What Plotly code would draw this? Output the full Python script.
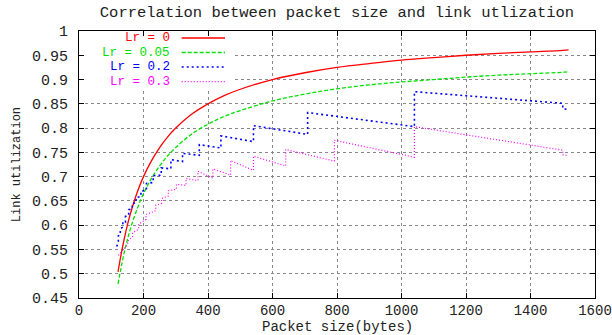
import plotly.graph_objects as go

# ---- data ----
size_smooth = [121, 130, 140, 150, 160, 180, 200, 225, 250, 275, 300, 350, 400, 450, 500,
               600, 700, 800, 900, 1000, 1100, 1200, 1300, 1400, 1500, 1518]
util_lr0 = [0.504, 0.538, 0.571, 0.600, 0.625, 0.667, 0.700, 0.733, 0.760, 0.782, 0.800,
            0.829, 0.850, 0.867, 0.880, 0.900, 0.914, 0.925, 0.933, 0.940, 0.945, 0.950,
            0.954, 0.957, 0.960, 0.961]
util_lr005 = [0.479, 0.511, 0.543, 0.570, 0.594, 0.633, 0.665, 0.697, 0.722, 0.743, 0.760,
              0.788, 0.808, 0.824, 0.836, 0.856, 0.870, 0.881, 0.889, 0.895, 0.900, 0.905,
              0.909, 0.912, 0.915, 0.916]

size_lr02 = [117, 122, 122, 128, 128, 136, 136, 144, 144, 154, 154, 165, 165, 177, 177,
             192, 192, 209, 209, 230, 230, 255, 255, 285, 285, 321, 321, 373, 373, 440, 440,
             541, 541, 709, 709, 1040, 1040, 1500, 1500, 1518]
util_lr02 = [0.556, 0.566, 0.578, 0.580, 0.592, 0.596, 0.607, 0.606, 0.618, 0.620, 0.632,
             0.634, 0.645, 0.646, 0.657, 0.659, 0.670, 0.672, 0.686, 0.688, 0.702, 0.703,
             0.718, 0.716, 0.735, 0.731, 0.748, 0.744, 0.766, 0.759, 0.784, 0.772, 0.805,
             0.787, 0.832, 0.803, 0.875, 0.851, 0.840, 0.838]

size_lr03 = [122, 151, 151, 166, 166, 185, 185, 208, 208, 238, 238, 256, 256, 277, 277,
             302, 302, 332, 332, 369, 369, 415, 415, 470, 470, 541, 541, 641, 641, 792, 792,
             1040, 1040, 1500, 1500, 1518]
util_lr03 = [0.538, 0.560, 0.567, 0.576, 0.584, 0.592, 0.602, 0.612, 0.622, 0.630, 0.641,
             0.645, 0.655, 0.660, 0.671, 0.674, 0.684, 0.682, 0.696, 0.692, 0.711, 0.697,
             0.716, 0.703, 0.733, 0.713, 0.742, 0.722, 0.756, 0.732, 0.775, 0.740, 0.803,
             0.7545, 0.745, 0.743]

x_ticks = [0, 200, 400, 600, 800, 1000, 1200, 1400, 1600]
y_ticks = [0.45, 0.5, 0.55, 0.6, 0.65, 0.7, 0.75, 0.8, 0.85, 0.9, 0.95, 1.0]
y_tick_labels = ["0.45", "0.5", "0.55", "0.6", "0.65", "0.7", "0.75", "0.8", "0.85",
                 "0.9", "0.95", "1"]

series_names = ["Lr = 0", "Lr = 0.05", "Lr = 0.2", "Lr = 0.3"]
series_colors = ["#ff0000", "#00e000", "#0000ff", "#ff00ff"]
series_dash = ["solid", "4px,2px", "2px,3px", "1px,2px"]
series_width = [1.3, 1.3, 1.6, 1.2]

FONT = "Liberation Mono, Courier New, monospace"
TXT = "#222222"

fig = go.Figure()
data_sets = [(size_smooth, util_lr0, "spline"), (size_smooth, util_lr005, "spline"),
             (size_lr02, util_lr02, "linear"), (size_lr03, util_lr03, "linear")]
for i, (xs, ys, shp) in enumerate(data_sets):
    fig.add_trace(go.Scatter(x=xs, y=ys, mode="lines", name=series_names[i],
                             line=dict(color=series_colors[i], dash=series_dash[i],
                                       width=series_width[i], shape=shp),
                             showlegend=False, hoverinfo="skip"))

# gnuplot-style key: text right-aligned, sample line to its right, opaque box over grid
key_rows = [0.9738, 0.9194, 0.8650, 0.8107]
shapes = [dict(type="rect", xref="paper", yref="paper", x0=0.012, x1=0.297,
               y0=0.785, y1=0.9775, fillcolor="white", line=dict(width=0), layer="above")]
annotations = []
for i, yr in enumerate(key_rows):
    annotations.append(dict(text=series_names[i], xref="paper", yref="paper",
                            x=0.1778, y=yr, xanchor="right", yanchor="middle",
                            showarrow=False, borderpad=0,
                            font=dict(family=FONT, size=12.5, color=series_colors[i])))
    shapes.append(dict(type="line", xref="paper", yref="paper", x0=0.199, x1=0.283,
                       y0=yr, y1=yr, layer="above",
                       line=dict(color=series_colors[i], dash=series_dash[i],
                                 width=series_width[i])))

# axis titles placed like gnuplot's
annotations.append(dict(text="Packet size(bytes)", xref="paper", yref="paper",
                        x=0.5, y=-0.108, xanchor="center", yanchor="middle",
                        showarrow=False, borderpad=0,
                        font=dict(family=FONT, size=14, color=TXT)))
annotations.append(dict(text="Link utilization", xref="paper", yref="paper",
                        x=-0.1208, y=0.5, xanchor="center", yanchor="middle",
                        textangle=-90, showarrow=False,
                        font=dict(family=FONT, size=12, color=TXT)))

axis_common = dict(showline=True, linecolor="black", linewidth=1, mirror="ticks",
                   ticks="inside", ticklen=5, tickcolor="black", automargin=False,
                   showgrid=True, gridcolor="#888888", griddash="dot", gridwidth=1,
                   zeroline=False)

fig.update_layout(
    width=612, height=335,
    margin=dict(l=79, r=17, t=31, b=37),
    paper_bgcolor="white", plot_bgcolor="white",
    font=dict(family=FONT, size=15, color=TXT),
    title=dict(text="Correlation between packet size and link utlization",
               x=0.5, xref="paper", y=1 - 12 / 335, yref="container",
               xanchor="center", yanchor="middle",
               font=dict(family=FONT, size=15.5, color=TXT)),
    xaxis=dict(range=[0, 1600], tickvals=x_ticks, ticktext=[str(v) for v in x_ticks],
               ticklabelstandoff=-1, tickfont=dict(family=FONT, size=14, color=TXT),
               **axis_common),
    yaxis=dict(range=[0.45, 1.0], tickvals=y_ticks, ticktext=y_tick_labels,
               ticklabelstandoff=7, tickfont=dict(family=FONT, size=15, color=TXT),
               **axis_common),
    shapes=shapes, annotations=annotations,
)

fig.write_html("out.html", config={"displayModeBar": False},
               post_script="document.body.style.margin='0';document.body.style.overflow='hidden';")
